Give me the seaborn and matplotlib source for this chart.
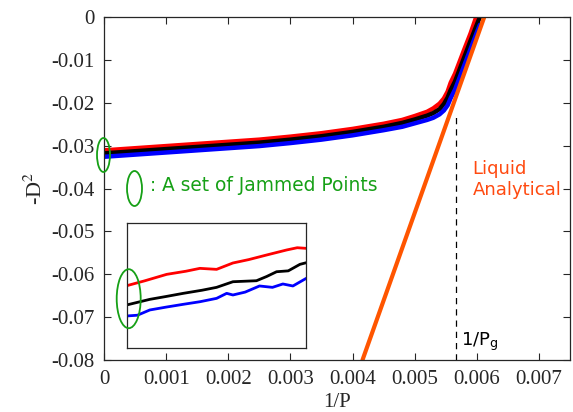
import numpy as np
import pandas as pd
import seaborn as sns
import matplotlib.pyplot as plt
from matplotlib.patches import Ellipse

# main curves (1/P, -D^2)
inv_p = [0, 0.0005, 0.001, 0.0015, 0.002, 0.0025, 0.003, 0.0035, 0.004, 0.0045,
         0.0048, 0.005, 0.0052, 0.0053, 0.0054, 0.00547, 0.00553, 0.00558, 0.00565,
         0.0058, 0.0059, 0.006, 0.00605]
red_d2 = [-0.0311, -0.0306, -0.0301, -0.0296, -0.0291, -0.0286, -0.0279, -0.0271, -0.0261, -0.0249,
          -0.0240, -0.0231, -0.0221, -0.0213, -0.0202, -0.0190, -0.0174, -0.0153, -0.0132,
          -0.0075, -0.0038, 0.0004, 0.0018]
black_d2 = [-0.0318, -0.0313, -0.0308, -0.0303, -0.0298, -0.0293, -0.0286, -0.0278, -0.0268, -0.0256,
            -0.0247, -0.0239, -0.0230, -0.0224, -0.0215, -0.0203, -0.0188, -0.0170, -0.0150,
            -0.0093, -0.0055, -0.0018, 0.0]
blue_d2 = [-0.0326, -0.0321, -0.0316, -0.0311, -0.0306, -0.0301, -0.0294, -0.0286, -0.0276, -0.0264,
           -0.0256, -0.0248, -0.0240, -0.0235, -0.0227, -0.0218, -0.0206, -0.0189, -0.0169,
           -0.0112, -0.0074, -0.0036, -0.0018]

# liquid analytical line
liq_x = [0.00416, 0.00612]
liq_y = [-0.08, 0.0]
inv_pg = 0.00566

# inset (arbitrary units)
ins_red_t = [0, 0.1, 0.223, 0.33, 0.408, 0.501, 0.592, 0.68, 0.78, 0.891, 0.95, 1.0]
ins_red_y = [0.496, 0.535, 0.587, 0.612, 0.635, 0.627, 0.678, 0.705, 0.742, 0.782, 0.80, 0.795]
ins_blk_t = [0, 0.129, 0.22, 0.315, 0.42, 0.501, 0.592, 0.723, 0.78, 0.835, 0.9, 0.965, 1.0]
ins_blk_y = [0.342, 0.387, 0.41, 0.435, 0.46, 0.483, 0.528, 0.536, 0.57, 0.608, 0.615, 0.667, 0.68]
ins_blu_t = [0, 0.06, 0.129, 0.22, 0.314, 0.408, 0.501, 0.557, 0.592, 0.66, 0.74, 0.812, 0.87, 0.926, 1.0]
ins_blu_y = [0.254, 0.26, 0.302, 0.325, 0.347, 0.368, 0.395, 0.435, 0.422, 0.445, 0.494, 0.483, 0.51, 0.494, 0.555]

sns.set_style('ticks')
plt.rcParams['font.family'] = ['Liberation Serif']
plt.rcParams['mathtext.fontset'] = 'stix'

fig = plt.figure(figsize=(5.73, 4.12), dpi=100)
ax = fig.add_axes([0.1815, 0.1262, 0.8133, 0.8325])

df = pd.DataFrame({'x': inv_p, 'red': red_d2, 'black': black_d2, 'blue': blue_d2})
for col, c in [('red', '#ff0000'), ('black', '#000000'), ('blue', '#0000ff')]:
    sns.lineplot(data=df, x='x', y=col, color=c, lw=3.2, sort=False, estimator=None, ax=ax)
sns.lineplot(x=liq_x, y=liq_y, color='#ff5500', lw=3.0, ax=ax)
ax.plot([inv_pg, inv_pg], [-0.08, -0.0228], color='black', lw=0.9, ls=(0, (5, 4)))

ax.set_xlim(0, 0.0075)
ax.set_ylim(-0.08, 0)
ax.set_xticks([0, 0.001, 0.002, 0.003, 0.004, 0.005, 0.006, 0.007])
ax.set_xticklabels(['0', '0.001', '0.002', '0.003', '0.004', '0.005', '0.006', '0.007'])
ax.set_yticks([0, -0.01, -0.02, -0.03, -0.04, -0.05, -0.06, -0.07, -0.08])
ax.set_yticklabels(['0', '-0.01', '-0.02', '-0.03', '-0.04', '-0.05', '-0.06', '-0.07', '-0.08'])
ax.tick_params(direction='in', length=5, width=0.8, top=True, right=True, labelsize=15, pad=7)
for s in ax.spines.values():
    s.set_linewidth(0.9)
ax.set_xlabel('1/P', fontsize=15, labelpad=3)
ax.set_ylabel('-D$^2$', fontsize=16, labelpad=3)

green = '#16a016'
sans = ['DejaVu Sans']
ax.text(0.00074, -0.0405, ': A set of Jammed Points', color=green, fontsize=13.4, family=sans, va='baseline')
ax.text(0.00593, -0.0366, 'Liquid', color='#ff4a10', fontsize=13, family=sans, va='baseline')
ax.text(0.00593, -0.0415, 'Analytical', color='#ff4a10', fontsize=13, family=sans, va='baseline')
ax.text(0.00575, -0.0767, '1/P$_\\mathregular{g}$', color='black', fontsize=13, family=sans, va='baseline')

fig.patches.append(Ellipse((103.5 / 573, 1 - 155 / 412), 13 / 573, 34 / 412, transform=fig.transFigure,
                           fill=False, ec=green, lw=1.3))
fig.patches.append(Ellipse((134.5 / 573, 1 - 188.5 / 412), 15 / 573, 35 / 412, transform=fig.transFigure,
                           fill=False, ec=green, lw=1.3))

ins = fig.add_axes([0.221, 0.156, 0.3134, 0.3034])
sns.lineplot(x=ins_red_t, y=ins_red_y, color='#ff0000', lw=2, ax=ins)
sns.lineplot(x=ins_blk_t, y=ins_blk_y, color='#000000', lw=2, ax=ins)
sns.lineplot(x=ins_blu_t, y=ins_blu_y, color='#0000ff', lw=2, ax=ins)
ins.set_xlim(0, 1)
ins.set_ylim(0, 1)
ins.set_xticks([])
ins.set_yticks([])
for s in ins.spines.values():
    s.set_linewidth(0.9)
fig.patches.append(Ellipse((128.7 / 573, 1 - 298.7 / 412), 24 / 573, 59 / 412, transform=fig.transFigure,
                           fill=False, ec=green, lw=1.3))

fig.savefig('out.png', dpi=100)
